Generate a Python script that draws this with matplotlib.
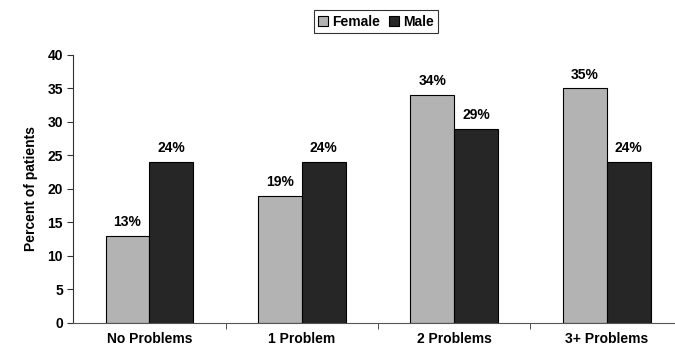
import matplotlib.pyplot as plt
import numpy as np

plt.rcParams['font.family'] = ['Liberation Sans', 'DejaVu Sans']
plt.rcParams['font.weight'] = 'bold'

groups = ["No Problems", "1 Problem", "2 Problems", "3+ Problems"]
female = [13, 19, 34, 35]
male = [24, 24, 29, 24]

fig = plt.figure(figsize=(6.75, 3.5), dpi=100)
# plot area runs a little past the right edge of the figure
ax = fig.add_axes([0.1086, 0.078, 0.903, 0.765])

x = np.arange(len(groups))
w = 0.288
fb = ax.bar(x - w / 2, female, w, color="#b3b3b3", edgecolor="black", linewidth=0.8, label="Female")
mb = ax.bar(x + w / 2, male, w, color="#262626", edgecolor="black", linewidth=0.8, label="Male")

for bars, vals in [(fb, female), (mb, male)]:
    for b, v in zip(bars, vals):
        ax.text(b.get_x() + b.get_width() / 2, v + 1.0, f"{v}%", ha="center", va="bottom",
                fontsize=10, fontweight="bold")

ax.set_xlim(-0.5, 3.5)
ax.set_ylim(0, 40)
ax.set_yticks(range(0, 41, 5))
ax.set_xticks(x)
ax.set_xticklabels(groups, fontsize=10, fontweight="bold")
ax.set_xticks(x[:-1] + 0.5, minor=True)
ax.tick_params(axis="x", which="major", length=0, pad=7)
ax.tick_params(axis="x", which="minor", length=4, direction="out", color="#333333")
ax.tick_params(axis="y", labelsize=10, length=4, direction="out", color="#333333")
ax.set_ylabel("Percent of patients", fontsize=10, fontweight="bold", labelpad=7)

ax.spines["top"].set_visible(False)
ax.spines["right"].set_visible(False)
ax.spines["left"].set_color("#333333")
ax.spines["bottom"].set_color("#555555")

leg = fig.legend(loc="upper center", bbox_to_anchor=(0.557, 0.99), ncol=2, frameon=True,
                 fancybox=False, edgecolor="black", fontsize=10, handlelength=0.7, handleheight=0.7,
                 handletextpad=0.3, columnspacing=0.7, borderpad=0.3)
leg.get_frame().set_linewidth(0.8)

fig.savefig("out.png", dpi=100)
